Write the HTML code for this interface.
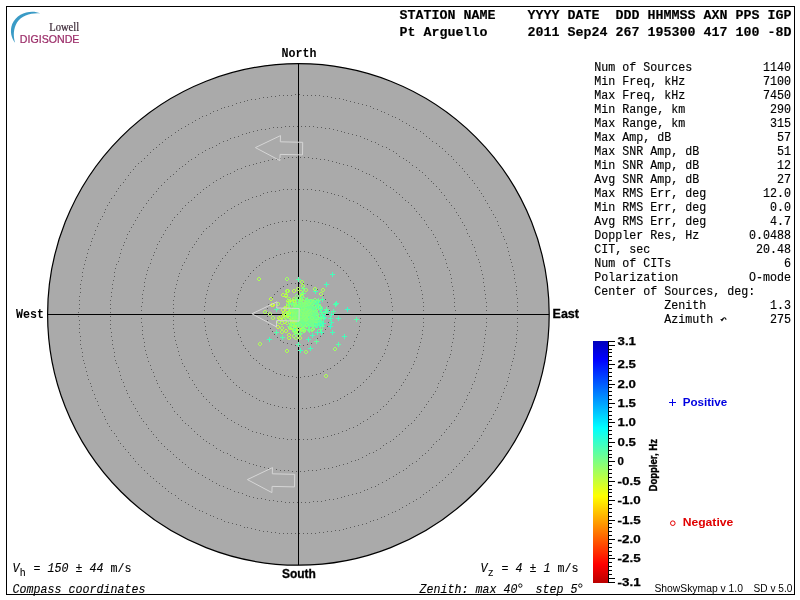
<!DOCTYPE html>
<html><head><meta charset="utf-8"><title>Skymap</title>
<style>
html,body{margin:0;padding:0;background:#fff;}
body{width:800px;height:600px;overflow:hidden;font-family:"Liberation Sans",sans-serif;}
svg{display:block;will-change:transform;}
.mono{font-family:"Liberation Mono",monospace;}
.sans{font-family:"Liberation Sans",sans-serif;}
.serif{font-family:"Liberation Serif",serif;}
</style></head><body>
<svg width="800" height="600" viewBox="0 0 800 600">
<defs>
<linearGradient id="jet" x1="0" y1="0" x2="0" y2="1">
<stop offset="0" stop-color="#0000ba"/><stop offset="0.0767" stop-color="#0000ff"/><stop offset="0.359" stop-color="#00ffff"/>
<stop offset="0.5" stop-color="#80ff80"/><stop offset="0.641" stop-color="#ffff00"/><stop offset="0.923" stop-color="#ff0000"/><stop offset="1" stop-color="#ba0000"/>
</linearGradient>
</defs>
<rect width="800" height="600" fill="#fff"/>
<rect x="6.5" y="6.5" width="788" height="588" fill="none" stroke="#000" stroke-width="1" shape-rendering="crispEdges"/>
<!-- logo -->
<path d="M40.3 13.3 C31 9.3 17 12.8 12.2 24 C9.5 31 11.5 38.5 15.1 42.8 C13.2 36 13.2 29 17 22.5 C21.8 15.3 31 12.6 40.3 13.3Z" fill="#3a9bc6"/>
<text class="serif" x="49.2" y="30.8" font-size="11.9" fill="#3b2735" stroke="#3b2735" stroke-width="0.2" textLength="30" lengthAdjust="spacingAndGlyphs">Lowell</text>
<text class="sans" x="19.8" y="42.5" font-size="10.4" fill="#9b2c68" stroke="#9b2c68" stroke-width="0.2" textLength="59.6" lengthAdjust="spacingAndGlyphs">DIGISONDE</text>
<!-- sky disk -->
<circle cx="298.4" cy="314.4" r="250.8" fill="#aaaaaa"/>
<g fill="none" stroke="#5c5c5c" stroke-width="1" shape-rendering="crispEdges"><path d="M329 314.5h1M329 318.5h1M328 322.5h1M327 326.5h1M325 329.5h1M323 333.5h1M320 336.5h1M317 338.5h1M314 341.5h1M311 343.5h1M307 344.5h1M303 345.5h1M299 345.5h1M295 345.5h1M291 344.5h1M287 343.5h1M283 342.5h1M280 340.5h1M277 337.5h1M274 334.5h1M272 331.5h1M270 328.5h1M268 324.5h1M267 320.5h1M267 316.5h1M267 312.5h1M267 308.5h1M268 304.5h1M270 300.5h1M272 297.5h1M274 294.5h1M277 291.5h1M280 288.5h1M283 286.5h1M287 284.5h1M291 283.5h1M295 283.5h1M299 283.5h1M303 283.5h1M307 284.5h1M311 285.5h1M314 287.5h1M317 289.5h1M320 292.5h1M323 295.5h1M325 299.5h1M327 302.5h1M328 306.5h1M329 310.5h1M361 314.5h1M360 318.5h1M360 322.5h1M359 326.5h1M359 330.5h1M357 334.5h1M356 337.5h1M354 341.5h1M353 345.5h1M350 348.5h1M348 351.5h1M346 355.5h1M343 358.5h1M340 360.5h1M337 363.5h1M334 365.5h1M330 368.5h1M327 369.5h1M323 371.5h1M320 373.5h1M316 374.5h1M312 375.5h1M308 376.5h1M304 376.5h1M300 377.5h1M296 377.5h1M292 376.5h1M288 376.5h1M284 375.5h1M280 374.5h1M276 373.5h1M273 371.5h1M269 369.5h1M265 368.5h1M262 365.5h1M259 363.5h1M256 360.5h1M253 358.5h1M250 355.5h1M248 351.5h1M245 348.5h1M243 345.5h1M241 341.5h1M240 337.5h1M238 334.5h1M237 330.5h1M236 326.5h1M236 322.5h1M235 318.5h1M235 314.5h1M235 310.5h1M236 306.5h1M236 302.5h1M237 298.5h1M238 294.5h1M240 290.5h1M241 287.5h1M243 283.5h1M245 280.5h1M248 276.5h1M250 273.5h1M253 270.5h1M256 267.5h1M259 265.5h1M262 262.5h1M265 260.5h1M269 258.5h1M273 257.5h1M276 255.5h1M280 254.5h1M284 253.5h1M288 252.5h1M292 251.5h1M296 251.5h1M300 251.5h1M304 251.5h1M308 252.5h1M312 253.5h1M316 254.5h1M320 255.5h1M323 257.5h1M327 258.5h1M330 260.5h1M334 262.5h1M337 265.5h1M340 267.5h1M343 270.5h1M346 273.5h1M348 276.5h1M350 280.5h1M353 283.5h1M354 287.5h1M356 290.5h1M357 294.5h1M359 298.5h1M359 302.5h1M360 306.5h1M360 310.5h1M392 314.5h1M392 318.5h1M392 322.5h1M391 326.5h1M391 330.5h1M390 334.5h1M389 338.5h1M388 341.5h1M387 345.5h1M385 349.5h1M384 353.5h1M382 356.5h1M380 360.5h1M378 363.5h1M376 367.5h1M374 370.5h1M371 373.5h1M369 376.5h1M366 379.5h1M363 382.5h1M360 385.5h1M357 387.5h1M354 390.5h1M351 392.5h1M347 394.5h1M344 396.5h1M340 398.5h1M337 400.5h1M333 401.5h1M329 403.5h1M325 404.5h1M322 405.5h1M318 406.5h1M314 407.5h1M310 407.5h1M306 408.5h1M302 408.5h1M298 408.5h1M294 408.5h1M290 408.5h1M286 407.5h1M282 407.5h1M278 406.5h1M274 405.5h1M270 404.5h1M267 403.5h1M263 401.5h1M259 400.5h1M256 398.5h1M252 396.5h1M249 394.5h1M245 392.5h1M242 390.5h1M239 387.5h1M236 385.5h1M233 382.5h1M230 379.5h1M227 376.5h1M225 373.5h1M222 370.5h1M220 367.5h1M218 363.5h1M216 360.5h1M214 356.5h1M212 353.5h1M211 349.5h1M209 345.5h1M208 341.5h1M207 338.5h1M206 334.5h1M205 330.5h1M205 326.5h1M204 322.5h1M204 318.5h1M204 314.5h1M204 310.5h1M204 306.5h1M205 302.5h1M205 298.5h1M206 294.5h1M207 290.5h1M208 286.5h1M209 283.5h1M211 279.5h1M212 275.5h1M214 272.5h1M216 268.5h1M218 265.5h1M220 261.5h1M222 258.5h1M225 255.5h1M227 252.5h1M230 249.5h1M233 246.5h1M236 243.5h1M239 241.5h1M242 238.5h1M245 236.5h1M249 234.5h1M252 232.5h1M256 230.5h1M259 228.5h1M263 227.5h1M267 225.5h1M270 224.5h1M274 223.5h1M278 222.5h1M282 221.5h1M286 221.5h1M290 220.5h1M294 220.5h1M298 220.5h1M302 220.5h1M306 220.5h1M310 221.5h1M314 221.5h1M318 222.5h1M322 223.5h1M325 224.5h1M329 225.5h1M333 227.5h1M337 228.5h1M340 230.5h1M344 232.5h1M347 234.5h1M351 236.5h1M354 238.5h1M357 241.5h1M360 243.5h1M363 246.5h1M366 249.5h1M369 252.5h1M371 255.5h1M374 258.5h1M376 261.5h1M378 265.5h1M380 268.5h1M382 272.5h1M384 275.5h1M385 279.5h1M387 283.5h1M388 286.5h1M389 290.5h1M390 294.5h1M391 298.5h1M391 302.5h1M392 306.5h1M392 310.5h1M423 314.5h1M423 318.5h1M423 322.5h1M423 326.5h1M422 330.5h1M422 334.5h1M421 338.5h1M420 342.5h1M419 346.5h1M418 349.5h1M417 353.5h1M416 357.5h1M414 361.5h1M413 364.5h1M411 368.5h1M409 372.5h1M407 375.5h1M405 379.5h1M403 382.5h1M401 385.5h1M399 389.5h1M396 392.5h1M394 395.5h1M391 398.5h1M388 401.5h1M386 404.5h1M383 406.5h1M380 409.5h1M377 412.5h1M373 414.5h1M370 416.5h1M367 419.5h1M363 421.5h1M360 423.5h1M357 425.5h1M353 427.5h1M349 428.5h1M346 430.5h1M342 431.5h1M338 433.5h1M334 434.5h1M331 435.5h1M327 436.5h1M323 437.5h1M319 438.5h1M315 438.5h1M311 439.5h1M307 439.5h1M303 439.5h1M299 439.5h1M295 439.5h1M291 439.5h1M287 439.5h1M283 438.5h1M279 438.5h1M275 437.5h1M271 436.5h1M267 435.5h1M263 434.5h1M260 433.5h1M256 432.5h1M252 431.5h1M248 429.5h1M245 427.5h1M241 426.5h1M238 424.5h1M234 422.5h1M231 420.5h1M227 418.5h1M224 415.5h1M221 413.5h1M218 410.5h1M215 408.5h1M212 405.5h1M209 402.5h1M206 399.5h1M203 396.5h1M201 393.5h1M198 390.5h1M196 387.5h1M194 384.5h1M192 380.5h1M189 377.5h1M188 373.5h1M186 370.5h1M184 366.5h1M182 363.5h1M181 359.5h1M179 355.5h1M178 351.5h1M177 347.5h1M176 344.5h1M175 340.5h1M174 336.5h1M174 332.5h1M173 328.5h1M173 324.5h1M173 320.5h1M173 316.5h1M173 312.5h1M173 308.5h1M173 304.5h1M173 300.5h1M174 296.5h1M174 292.5h1M175 288.5h1M176 284.5h1M177 280.5h1M178 276.5h1M179 273.5h1M181 269.5h1M182 265.5h1M184 262.5h1M186 258.5h1M188 254.5h1M189 251.5h1M192 247.5h1M194 244.5h1M196 241.5h1M198 238.5h1M201 234.5h1M203 231.5h1M206 228.5h1M209 226.5h1M212 223.5h1M215 220.5h1M218 217.5h1M221 215.5h1M224 213.5h1M227 210.5h1M231 208.5h1M234 206.5h1M238 204.5h1M241 202.5h1M245 200.5h1M248 199.5h1M252 197.5h1M256 196.5h1M260 195.5h1M263 193.5h1M267 192.5h1M271 191.5h1M275 191.5h1M279 190.5h1M283 189.5h1M287 189.5h1M291 189.5h1M295 189.5h1M299 189.5h1M303 189.5h1M307 189.5h1M311 189.5h1M315 190.5h1M319 190.5h1M323 191.5h1M327 192.5h1M331 193.5h1M334 194.5h1M338 195.5h1M342 196.5h1M346 198.5h1M349 200.5h1M353 201.5h1M357 203.5h1M360 205.5h1M363 207.5h1M367 209.5h1M370 211.5h1M373 214.5h1M377 216.5h1M380 219.5h1M383 221.5h1M386 224.5h1M388 227.5h1M391 230.5h1M394 233.5h1M396 236.5h1M399 239.5h1M401 242.5h1M403 246.5h1M405 249.5h1M407 253.5h1M409 256.5h1M411 260.5h1M413 263.5h1M414 267.5h1M416 271.5h1M417 275.5h1M418 278.5h1M419 282.5h1M420 286.5h1M421 290.5h1M422 294.5h1M422 298.5h1M423 302.5h1M423 306.5h1M423 310.5h1M455 314.5h1M455 318.5h1M454 322.5h1M454 326.5h1M454 330.5h1M453 334.5h1M453 338.5h1M452 342.5h1M451 346.5h1M451 350.5h1M450 354.5h1M449 357.5h1M447 361.5h1M446 365.5h1M445 369.5h1M443 372.5h1M442 376.5h1M440 380.5h1M438 383.5h1M437 387.5h1M435 391.5h1M433 394.5h1M431 397.5h1M428 401.5h1M426 404.5h1M424 407.5h1M421 411.5h1M419 414.5h1M416 417.5h1M414 420.5h1M411 423.5h1M408 425.5h1M405 428.5h1M402 431.5h1M399 434.5h1M396 436.5h1M393 439.5h1M390 441.5h1M386 443.5h1M383 445.5h1M380 448.5h1M376 450.5h1M373 452.5h1M369 453.5h1M366 455.5h1M362 457.5h1M358 459.5h1M355 460.5h1M351 461.5h1M347 463.5h1M343 464.5h1M339 465.5h1M336 466.5h1M332 467.5h1M328 468.5h1M324 468.5h1M320 469.5h1M316 470.5h1M312 470.5h1M308 470.5h1M304 471.5h1M300 471.5h1M296 471.5h1M292 471.5h1M288 470.5h1M284 470.5h1M280 470.5h1M276 469.5h1M272 468.5h1M268 468.5h1M264 467.5h1M260 466.5h1M256 465.5h1M253 464.5h1M249 463.5h1M245 461.5h1M241 460.5h1M237 459.5h1M234 457.5h1M230 455.5h1M227 453.5h1M223 452.5h1M220 450.5h1M216 448.5h1M213 445.5h1M209 443.5h1M206 441.5h1M203 439.5h1M200 436.5h1M197 434.5h1M194 431.5h1M191 428.5h1M188 425.5h1M185 423.5h1M182 420.5h1M180 417.5h1M177 414.5h1M174 411.5h1M172 407.5h1M170 404.5h1M167 401.5h1M165 397.5h1M163 394.5h1M161 391.5h1M159 387.5h1M157 383.5h1M156 380.5h1M154 376.5h1M153 372.5h1M151 369.5h1M150 365.5h1M148 361.5h1M147 357.5h1M146 354.5h1M145 350.5h1M144 346.5h1M144 342.5h1M143 338.5h1M142 334.5h1M142 330.5h1M142 326.5h1M141 322.5h1M141 318.5h1M141 314.5h1M141 310.5h1M141 306.5h1M142 302.5h1M142 298.5h1M142 294.5h1M143 290.5h1M144 286.5h1M144 282.5h1M145 278.5h1M146 274.5h1M147 270.5h1M148 267.5h1M150 263.5h1M151 259.5h1M153 255.5h1M154 252.5h1M156 248.5h1M157 244.5h1M159 241.5h1M161 237.5h1M163 234.5h1M165 230.5h1M167 227.5h1M170 224.5h1M172 220.5h1M174 217.5h1M177 214.5h1M180 211.5h1M182 208.5h1M185 205.5h1M188 202.5h1M191 200.5h1M194 197.5h1M197 194.5h1M200 192.5h1M203 189.5h1M206 187.5h1M209 185.5h1M213 182.5h1M216 180.5h1M220 178.5h1M223 176.5h1M227 174.5h1M230 173.5h1M234 171.5h1M237 169.5h1M241 168.5h1M245 166.5h1M249 165.5h1M253 164.5h1M256 163.5h1M260 162.5h1M264 161.5h1M268 160.5h1M272 159.5h1M276 159.5h1M280 158.5h1M284 158.5h1M288 157.5h1M292 157.5h1M296 157.5h1M300 157.5h1M304 157.5h1M308 157.5h1M312 158.5h1M316 158.5h1M320 159.5h1M324 159.5h1M328 160.5h1M332 161.5h1M336 162.5h1M339 163.5h1M343 164.5h1M347 165.5h1M351 166.5h1M355 168.5h1M358 169.5h1M362 171.5h1M366 173.5h1M369 174.5h1M373 176.5h1M376 178.5h1M380 180.5h1M383 182.5h1M386 185.5h1M390 187.5h1M393 189.5h1M396 192.5h1M399 194.5h1M402 197.5h1M405 200.5h1M408 202.5h1M411 205.5h1M414 208.5h1M416 211.5h1M419 214.5h1M421 217.5h1M424 220.5h1M426 224.5h1M428 227.5h1M431 230.5h1M433 234.5h1M435 237.5h1M437 241.5h1M438 244.5h1M440 248.5h1M442 252.5h1M443 255.5h1M445 259.5h1M446 263.5h1M447 267.5h1M449 270.5h1M450 274.5h1M451 278.5h1M451 282.5h1M452 286.5h1M453 290.5h1M453 294.5h1M454 298.5h1M454 302.5h1M454 306.5h1M455 310.5h1M486 314.5h1M486 318.5h1M486 322.5h1M486 326.5h1M485 330.5h1M485 334.5h1M484 338.5h1M484 342.5h1M483 346.5h1M483 350.5h1M482 354.5h1M481 358.5h1M480 361.5h1M479 365.5h1M478 369.5h1M476 373.5h1M475 377.5h1M474 381.5h1M472 384.5h1M471 388.5h1M469 392.5h1M467 395.5h1M466 399.5h1M464 402.5h1M462 406.5h1M460 409.5h1M458 413.5h1M456 416.5h1M454 420.5h1M451 423.5h1M449 426.5h1M446 429.5h1M444 432.5h1M441 435.5h1M439 439.5h1M436 441.5h1M433 444.5h1M431 447.5h1M428 450.5h1M425 453.5h1M422 455.5h1M419 458.5h1M416 461.5h1M412 463.5h1M409 465.5h1M406 468.5h1M403 470.5h1M399 472.5h1M396 474.5h1M393 476.5h1M389 478.5h1M386 480.5h1M382 482.5h1M378 484.5h1M375 486.5h1M371 487.5h1M367 489.5h1M364 490.5h1M360 492.5h1M356 493.5h1M352 494.5h1M348 495.5h1M344 496.5h1M341 497.5h1M337 498.5h1M333 499.5h1M329 499.5h1M325 500.5h1M321 501.5h1M317 501.5h1M313 501.5h1M309 502.5h1M305 502.5h1M301 502.5h1M297 502.5h1M293 502.5h1M289 502.5h1M285 502.5h1M281 501.5h1M277 501.5h1M273 500.5h1M269 500.5h1M265 499.5h1M261 498.5h1M257 498.5h1M253 497.5h1M249 496.5h1M246 495.5h1M242 493.5h1M238 492.5h1M234 491.5h1M230 489.5h1M227 488.5h1M223 486.5h1M219 485.5h1M216 483.5h1M212 481.5h1M209 479.5h1M205 477.5h1M202 475.5h1M198 473.5h1M195 471.5h1M191 469.5h1M188 467.5h1M185 464.5h1M182 462.5h1M179 459.5h1M176 457.5h1M173 454.5h1M170 451.5h1M167 449.5h1M164 446.5h1M161 443.5h1M158 440.5h1M156 437.5h1M153 434.5h1M151 431.5h1M148 428.5h1M146 424.5h1M143 421.5h1M141 418.5h1M139 415.5h1M137 411.5h1M135 408.5h1M133 404.5h1M131 401.5h1M129 397.5h1M127 393.5h1M126 390.5h1M124 386.5h1M123 382.5h1M121 379.5h1M120 375.5h1M119 371.5h1M118 367.5h1M116 363.5h1M115 360.5h1M114 356.5h1M114 352.5h1M113 348.5h1M112 344.5h1M112 340.5h1M111 336.5h1M111 332.5h1M110 328.5h1M110 324.5h1M110 320.5h1M110 316.5h1M110 312.5h1M110 308.5h1M110 304.5h1M110 300.5h1M111 296.5h1M111 292.5h1M112 288.5h1M112 284.5h1M113 280.5h1M114 276.5h1M114 272.5h1M115 268.5h1M116 264.5h1M118 261.5h1M119 257.5h1M120 253.5h1M121 249.5h1M123 245.5h1M124 242.5h1M126 238.5h1M127 234.5h1M129 231.5h1M131 227.5h1M133 224.5h1M135 220.5h1M137 217.5h1M139 213.5h1M141 210.5h1M143 207.5h1M146 203.5h1M148 200.5h1M151 197.5h1M153 194.5h1M156 191.5h1M158 188.5h1M161 185.5h1M164 182.5h1M167 179.5h1M170 176.5h1M173 174.5h1M176 171.5h1M179 168.5h1M182 166.5h1M185 164.5h1M188 161.5h1M191 159.5h1M195 157.5h1M198 154.5h1M202 152.5h1M205 150.5h1M209 148.5h1M212 147.5h1M216 145.5h1M219 143.5h1M223 141.5h1M227 140.5h1M230 138.5h1M234 137.5h1M238 136.5h1M242 134.5h1M246 133.5h1M249 132.5h1M253 131.5h1M257 130.5h1M261 129.5h1M265 129.5h1M269 128.5h1M273 127.5h1M277 127.5h1M281 127.5h1M285 126.5h1M289 126.5h1M293 126.5h1M297 126.5h1M301 126.5h1M305 126.5h1M309 126.5h1M313 126.5h1M317 127.5h1M321 127.5h1M325 128.5h1M329 128.5h1M333 129.5h1M337 130.5h1M341 131.5h1M344 132.5h1M348 133.5h1M352 134.5h1M356 135.5h1M360 136.5h1M364 138.5h1M367 139.5h1M371 141.5h1M375 142.5h1M378 144.5h1M382 146.5h1M386 147.5h1M389 149.5h1M393 151.5h1M396 153.5h1M399 156.5h1M403 158.5h1M406 160.5h1M409 162.5h1M412 165.5h1M416 167.5h1M419 170.5h1M422 172.5h1M425 175.5h1M428 178.5h1M431 181.5h1M433 183.5h1M436 186.5h1M439 189.5h1M441 192.5h1M444 195.5h1M446 199.5h1M449 202.5h1M451 205.5h1M454 208.5h1M456 212.5h1M458 215.5h1M460 218.5h1M462 222.5h1M464 225.5h1M466 229.5h1M467 233.5h1M469 236.5h1M471 240.5h1M472 244.5h1M474 247.5h1M475 251.5h1M476 255.5h1M478 259.5h1M479 262.5h1M480 266.5h1M481 270.5h1M482 274.5h1M483 278.5h1M483 282.5h1M484 286.5h1M484 290.5h1M485 294.5h1M485 298.5h1M486 302.5h1M486 306.5h1M486 310.5h1M517 314.5h1M517 318.5h1M517 322.5h1M517 326.5h1M517 330.5h1M516 334.5h1M516 338.5h1M516 342.5h1M515 346.5h1M514 350.5h1M514 354.5h1M513 358.5h1M512 361.5h1M511 365.5h1M510 369.5h1M509 373.5h1M508 377.5h1M507 381.5h1M506 385.5h1M504 388.5h1M503 392.5h1M501 396.5h1M500 399.5h1M498 403.5h1M497 407.5h1M495 410.5h1M493 414.5h1M491 418.5h1M489 421.5h1M487 424.5h1M485 428.5h1M483 431.5h1M481 435.5h1M479 438.5h1M477 441.5h1M474 445.5h1M472 448.5h1M469 451.5h1M467 454.5h1M464 457.5h1M462 460.5h1M459 463.5h1M456 466.5h1M453 469.5h1M451 472.5h1M448 474.5h1M445 477.5h1M442 480.5h1M439 482.5h1M436 485.5h1M432 487.5h1M429 490.5h1M426 492.5h1M423 494.5h1M420 497.5h1M416 499.5h1M413 501.5h1M409 503.5h1M406 505.5h1M402 507.5h1M399 509.5h1M395 511.5h1M392 512.5h1M388 514.5h1M384 516.5h1M381 517.5h1M377 519.5h1M373 520.5h1M370 521.5h1M366 523.5h1M362 524.5h1M358 525.5h1M354 526.5h1M350 527.5h1M346 528.5h1M343 529.5h1M339 530.5h1M335 530.5h1M331 531.5h1M327 531.5h1M323 532.5h1M319 532.5h1M315 533.5h1M311 533.5h1M307 533.5h1M303 533.5h1M299 533.5h1M295 533.5h1M291 533.5h1M287 533.5h1M283 533.5h1M279 533.5h1M275 532.5h1M271 532.5h1M267 531.5h1M263 531.5h1M259 530.5h1M255 529.5h1M251 528.5h1M247 527.5h1M244 527.5h1M240 525.5h1M236 524.5h1M232 523.5h1M228 522.5h1M224 521.5h1M221 519.5h1M217 518.5h1M213 516.5h1M210 515.5h1M206 513.5h1M202 511.5h1M199 510.5h1M195 508.5h1M192 506.5h1M188 504.5h1M185 502.5h1M181 500.5h1M178 498.5h1M175 495.5h1M171 493.5h1M168 491.5h1M165 488.5h1M162 486.5h1M159 483.5h1M156 481.5h1M153 478.5h1M150 476.5h1M147 473.5h1M144 470.5h1M141 467.5h1M138 464.5h1M135 461.5h1M133 458.5h1M130 455.5h1M128 452.5h1M125 449.5h1M123 446.5h1M120 443.5h1M118 440.5h1M116 436.5h1M114 433.5h1M111 430.5h1M109 426.5h1M107 423.5h1M105 419.5h1M104 416.5h1M102 412.5h1M100 409.5h1M98 405.5h1M97 401.5h1M95 398.5h1M94 394.5h1M92 390.5h1M91 386.5h1M90 383.5h1M88 379.5h1M87 375.5h1M86 371.5h1M85 367.5h1M84 363.5h1M83 360.5h1M82 356.5h1M82 352.5h1M81 348.5h1M80 344.5h1M80 340.5h1M80 336.5h1M79 332.5h1M79 328.5h1M79 324.5h1M79 320.5h1M78 316.5h1M78 312.5h1M79 308.5h1M79 304.5h1M79 300.5h1M79 296.5h1M80 292.5h1M80 288.5h1M80 284.5h1M81 280.5h1M82 276.5h1M82 272.5h1M83 268.5h1M84 264.5h1M85 260.5h1M86 257.5h1M87 253.5h1M88 249.5h1M90 245.5h1M91 241.5h1M92 238.5h1M94 234.5h1M95 230.5h1M97 226.5h1M98 223.5h1M100 219.5h1M102 216.5h1M104 212.5h1M105 209.5h1M107 205.5h1M109 202.5h1M111 198.5h1M114 195.5h1M116 191.5h1M118 188.5h1M120 185.5h1M123 182.5h1M125 179.5h1M128 175.5h1M130 172.5h1M133 169.5h1M135 166.5h1M138 163.5h1M141 161.5h1M144 158.5h1M147 155.5h1M150 152.5h1M153 149.5h1M156 147.5h1M159 144.5h1M162 142.5h1M165 139.5h1M168 137.5h1M171 135.5h1M175 132.5h1M178 130.5h1M181 128.5h1M185 126.5h1M188 124.5h1M192 122.5h1M195 120.5h1M199 118.5h1M202 116.5h1M206 115.5h1M210 113.5h1M213 111.5h1M217 110.5h1M221 108.5h1M224 107.5h1M228 106.5h1M232 105.5h1M236 103.5h1M240 102.5h1M244 101.5h1M247 100.5h1M251 99.5h1M255 99.5h1M259 98.5h1M263 97.5h1M267 97.5h1M271 96.5h1M275 96.5h1M279 95.5h1M283 95.5h1M287 95.5h1M291 95.5h1M295 94.5h1M299 94.5h1M303 95.5h1M307 95.5h1M311 95.5h1M315 95.5h1M319 95.5h1M323 96.5h1M327 96.5h1M331 97.5h1M335 98.5h1M339 98.5h1M343 99.5h1M346 100.5h1M350 101.5h1M354 102.5h1M358 103.5h1M362 104.5h1M366 105.5h1M370 106.5h1M373 108.5h1M377 109.5h1M381 111.5h1M384 112.5h1M388 114.5h1M392 116.5h1M395 117.5h1M399 119.5h1M402 121.5h1M406 123.5h1M409 125.5h1M413 127.5h1M416 129.5h1M420 131.5h1M423 133.5h1M426 136.5h1M429 138.5h1M432 141.5h1M436 143.5h1M439 146.5h1M442 148.5h1M445 151.5h1M448 154.5h1M451 156.5h1M453 159.5h1M456 162.5h1M459 165.5h1M462 168.5h1M464 171.5h1M467 174.5h1M469 177.5h1M472 180.5h1M474 183.5h1M477 187.5h1M479 190.5h1M481 193.5h1M483 196.5h1M485 200.5h1M487 203.5h1M489 207.5h1M491 210.5h1M493 214.5h1M495 217.5h1M497 221.5h1M498 225.5h1M500 228.5h1M501 232.5h1M503 236.5h1M504 239.5h1M506 243.5h1M507 247.5h1M508 251.5h1M509 255.5h1M510 259.5h1M511 262.5h1M512 266.5h1M513 270.5h1M514 274.5h1M514 278.5h1M515 282.5h1M516 286.5h1M516 290.5h1M516 294.5h1M517 298.5h1M517 302.5h1M517 306.5h1M517 310.5h1"/></g>
<path d="M298.5 63.6V565.2M47.6 314.5H549.2" stroke="#000" stroke-width="1" shape-rendering="crispEdges"/>
<g fill="none" stroke-width="1" shape-rendering="crispEdges">
<path d="M295 328.5h2M295 331.5h2M294.5 329v2M297.5 329v2M288 306.5h2M288 309.5h2M287.5 307v2M290.5 307v2M293 309.5h2M293 312.5h2M292.5 310v2M295.5 310v2M282 314.5h2M282 317.5h2M281.5 315v2M284.5 315v2M296 315.5h2M296 318.5h2M295.5 316v2M298.5 316v2M301 292.5h2M301 295.5h2M300.5 293v2M303.5 293v2M285 313.5h2M285 316.5h2M284.5 314v2M287.5 314v2M294 300.5h2M294 303.5h2M293.5 301v2M296.5 301v2M294 327.5h2M294 330.5h2M293.5 328v2M296.5 328v2M288 300.5h2M288 303.5h2M287.5 301v2M290.5 301v2M272 303.5h2M272 306.5h2M271.5 304v2M274.5 304v2M279 317.5h2M279 320.5h2M278.5 318v2M281.5 318v2M287 313.5h2M287 316.5h2M286.5 314v2M289.5 314v2M294 305.5h2M294 308.5h2M293.5 306v2M296.5 306v2M282 308.5h2M282 311.5h2M281.5 309v2M284.5 309v2M296 309.5h2M296 312.5h2M295.5 310v2M298.5 310v2M284 313.5h2M284 316.5h2M283.5 314v2M286.5 314v2M296 313.5h2M296 316.5h2M295.5 314v2M298.5 314v2M271 303.5h2M271 306.5h2M270.5 304v2M273.5 304v2M286 311.5h2M286 314.5h2M285.5 312v2M288.5 312v2M284 320.5h2M284 323.5h2M283.5 321v2M286.5 321v2M289 313.5h2M289 316.5h2M288.5 314v2M291.5 314v2M284 310.5h2M284 313.5h2M283.5 311v2M286.5 311v2M277 325.5h2M277 328.5h2M276.5 326v2M279.5 326v2M296 317.5h2M296 320.5h2M295.5 318v2M298.5 318v2M285 313.5h2M285 316.5h2M284.5 314v2M287.5 314v2" stroke="#c8ff37"/>
<path d="M323 311.5h5M325.5 309v5M316 302.5h5M318.5 300v5M313 316.5h5M315.5 314v5M312 319.5h5M314.5 317v5M328 326.5h5M330.5 324v5M306 312.5h5M308.5 310v5M345 309.5h5M347.5 307v5M317 325.5h5M319.5 323v5M322 317.5h5M324.5 315v5M313 314.5h5M315.5 312v5M315 325.5h5M317.5 323v5M318 307.5h5M320.5 305v5" stroke="#37ffc8"/>
<path d="M309 301.5h5M311.5 299v5M311 319.5h5M313.5 317v5M319 332.5h5M321.5 330v5M310 322.5h5M312.5 320v5M308 318.5h5M310.5 316v5M310 317.5h5M312.5 315v5M312 320.5h5M314.5 318v5M311 311.5h5M313.5 309v5M318 309.5h5M320.5 307v5M306 324.5h5M308.5 322v5M308 308.5h5M310.5 306v5M308 318.5h5M310.5 316v5M304 302.5h5M306.5 300v5M312 315.5h5M314.5 313v5M316 305.5h5M318.5 303v5M306 306.5h5M308.5 304v5M325 311.5h5M327.5 309v5M311 314.5h5M313.5 312v5M313 291.5h5M315.5 289v5M314 323.5h5M316.5 321v5M306 339.5h5M308.5 337v5M317 308.5h5M319.5 306v5M316 319.5h5M318.5 317v5M314 317.5h5M316.5 315v5M317 324.5h5M319.5 322v5M309 305.5h5M311.5 303v5M309 312.5h5M311.5 310v5M315 305.5h5M317.5 303v5M312 320.5h5M314.5 318v5M310 320.5h5M312.5 318v5M305 312.5h5M307.5 310v5M321 317.5h5M323.5 315v5M310 316.5h5M312.5 314v5M330 274.5h5M332.5 272v5M324 284.5h5M326.5 282v5M334 303.5h5M336.5 301v5M334 303.5h5M336.5 301v5M336 318.5h5M338.5 316v5M329 314.5h5M331.5 312v5M328 318.5h5M330.5 316v5M329 322.5h5M331.5 320v5M330 332.5h5M332.5 330v5M342 336.5h5M344.5 334v5M308 348.5h5M310.5 346v5M298 350.5h5M300.5 348v5M267 339.5h5M269.5 337v5M292 328.5h5M294.5 326v5M321 323.5h5M323.5 321v5M320 323.5h5M322.5 321v5M310 335.5h5M312.5 333v5M315 332.5h5M317.5 330v5" stroke="#45ffba"/>
<path d="M300 307.5h2M300 310.5h2M299.5 308v2M302.5 308v2M297 319.5h2M297 322.5h2M296.5 320v2M299.5 320v2M288 313.5h2M288 316.5h2M287.5 314v2M290.5 314v2M300 311.5h2M300 314.5h2M299.5 312v2M302.5 312v2M310 305.5h2M310 308.5h2M309.5 306v2M312.5 306v2M295 313.5h2M295 316.5h2M294.5 314v2M297.5 314v2M295 313.5h2M295 316.5h2M294.5 314v2M297.5 314v2M284 306.5h2M284 309.5h2M283.5 307v2M286.5 307v2M291 318.5h2M291 321.5h2M290.5 319v2M293.5 319v2M296 312.5h2M296 315.5h2M295.5 313v2M298.5 313v2M290 317.5h2M290 320.5h2M289.5 318v2M292.5 318v2M285 329.5h2M285 332.5h2M284.5 330v2M287.5 330v2M286 305.5h2M286 308.5h2M285.5 306v2M288.5 306v2M300 316.5h2M300 319.5h2M299.5 317v2M302.5 317v2M300 298.5h2M300 301.5h2M299.5 299v2M302.5 299v2M286 305.5h2M286 308.5h2M285.5 306v2M288.5 306v2M291 319.5h2M291 322.5h2M290.5 320v2M293.5 320v2M298 306.5h2M298 309.5h2M297.5 307v2M300.5 307v2M301 294.5h2M301 297.5h2M300.5 295v2M303.5 295v2M289 316.5h2M289 319.5h2M288.5 317v2M291.5 317v2M300 312.5h2M300 315.5h2M299.5 313v2M302.5 313v2M288 310.5h2M288 313.5h2M287.5 311v2M290.5 311v2M295 311.5h2M295 314.5h2M294.5 312v2M297.5 312v2M297 309.5h2M297 312.5h2M296.5 310v2M299.5 310v2M294 310.5h2M294 313.5h2M293.5 311v2M296.5 311v2M284 315.5h2M284 318.5h2M283.5 316v2M286.5 316v2M290 314.5h2M290 317.5h2M289.5 315v2M292.5 315v2M293 317.5h2M293 320.5h2M292.5 318v2M295.5 318v2M295 317.5h2M295 320.5h2M294.5 318v2M297.5 318v2M293 299.5h2M293 302.5h2M292.5 300v2M295.5 300v2M296 310.5h2M296 313.5h2M295.5 311v2M298.5 311v2M292 316.5h2M292 319.5h2M291.5 317v2M294.5 317v2M291 318.5h2M291 321.5h2M290.5 319v2M293.5 319v2M270 297.5h2M270 300.5h2M269.5 298v2M272.5 298v2M288 333.5h2M288 336.5h2M287.5 334v2M290.5 334v2M288 336.5h2M288 339.5h2M287.5 337v2M290.5 337v2M293 289.5h2M293 292.5h2M292.5 290v2M295.5 290v2M282 293.5h2M282 296.5h2M281.5 294v2M284.5 294v2M285 294.5h2M285 297.5h2M284.5 295v2M287.5 295v2M278 316.5h2M278 319.5h2M277.5 317v2M280.5 317v2" stroke="#baff45"/>
<path d="M301 328.5h2M301 331.5h2M300.5 329v2M303.5 329v2M294 313.5h2M294 316.5h2M293.5 314v2M296.5 314v2M303 314.5h2M303 317.5h2M302.5 315v2M305.5 315v2M292 315.5h2M292 318.5h2M291.5 316v2M294.5 316v2M288 315.5h2M288 318.5h2M287.5 316v2M290.5 316v2M294 310.5h2M294 313.5h2M293.5 311v2M296.5 311v2M295 324.5h2M295 327.5h2M294.5 325v2M297.5 325v2M301 307.5h2M301 310.5h2M300.5 308v2M303.5 308v2M294 318.5h2M294 321.5h2M293.5 319v2M296.5 319v2M291 308.5h2M291 311.5h2M290.5 309v2M293.5 309v2M297 310.5h2M297 313.5h2M296.5 311v2M299.5 311v2M302 309.5h2M302 312.5h2M301.5 310v2M304.5 310v2M295 321.5h2M295 324.5h2M294.5 322v2M297.5 322v2M299 325.5h2M299 328.5h2M298.5 326v2M301.5 326v2M298 307.5h2M298 310.5h2M297.5 308v2M300.5 308v2M294 302.5h2M294 305.5h2M293.5 303v2M296.5 303v2M300 290.5h2M300 293.5h2M299.5 291v2M302.5 291v2M297 307.5h2M297 310.5h2M296.5 308v2M299.5 308v2M302 314.5h2M302 317.5h2M301.5 315v2M304.5 315v2M285 316.5h2M285 319.5h2M284.5 317v2M287.5 317v2M301 309.5h2M301 312.5h2M300.5 310v2M303.5 310v2M301 316.5h2M301 319.5h2M300.5 317v2M303.5 317v2M285 293.5h2M285 296.5h2M284.5 294v2M287.5 294v2M293 297.5h2M293 300.5h2M292.5 298v2M295.5 298v2M301 311.5h2M301 314.5h2M300.5 312v2M303.5 312v2M293 334.5h2M293 337.5h2M292.5 335v2M295.5 335v2M290 300.5h2M290 303.5h2M289.5 301v2M292.5 301v2M294 314.5h2M294 317.5h2M293.5 315v2M296.5 315v2M287 311.5h2M287 314.5h2M286.5 312v2M289.5 312v2M293 316.5h2M293 319.5h2M292.5 317v2M295.5 317v2M289 326.5h2M289 329.5h2M288.5 327v2M291.5 327v2M301 317.5h2M301 320.5h2M300.5 318v2M303.5 318v2M296 309.5h2M296 312.5h2M295.5 310v2M298.5 310v2M291 326.5h2M291 329.5h2M290.5 327v2M293.5 327v2M300 303.5h2M300 306.5h2M299.5 304v2M302.5 304v2M284 315.5h2M284 318.5h2M283.5 316v2M286.5 316v2M289 299.5h2M289 302.5h2M288.5 300v2M291.5 300v2M287 299.5h2M287 302.5h2M286.5 300v2M289.5 300v2M295 308.5h2M295 311.5h2M294.5 309v2M297.5 309v2M295 309.5h2M295 312.5h2M294.5 310v2M297.5 310v2M293 323.5h2M293 326.5h2M292.5 324v2M295.5 324v2M292 304.5h2M292 307.5h2M291.5 305v2M294.5 305v2M295 320.5h2M295 323.5h2M294.5 321v2M297.5 321v2M294 309.5h2M294 312.5h2M293.5 310v2M296.5 310v2M305 313.5h2M305 316.5h2M304.5 314v2M307.5 314v2M306 317.5h2M306 320.5h2M305.5 318v2M308.5 318v2M285 306.5h2M285 309.5h2M284.5 307v2M287.5 307v2M286 321.5h2M286 324.5h2M285.5 322v2M288.5 322v2M297 307.5h2M297 310.5h2M296.5 308v2M299.5 308v2M283 311.5h2M283 314.5h2M282.5 312v2M285.5 312v2M291 321.5h2M291 324.5h2M290.5 322v2M293.5 322v2M258 277.5h2M258 280.5h2M257.5 278v2M260.5 278v2M264 310.5h2M264 313.5h2M263.5 311v2M266.5 311v2M269 312.5h2M269 315.5h2M268.5 313v2M271.5 313v2M272 316.5h2M272 319.5h2M271.5 317v2M274.5 317v2M259 342.5h2M259 345.5h2M258.5 343v2M261.5 343v2M286 349.5h2M286 352.5h2M285.5 350v2M288.5 350v2M281 330.5h2M281 333.5h2M280.5 331v2M283.5 331v2M281 326.5h2M281 329.5h2M280.5 327v2M283.5 327v2M299 336.5h2M299 339.5h2M298.5 337v2M301.5 337v2M314 287.5h2M314 290.5h2M313.5 288v2M316.5 288v2M322 288.5h2M322 291.5h2M321.5 289v2M324.5 289v2M320 292.5h2M320 295.5h2M319.5 293v2M322.5 293v2M305 288.5h2M305 291.5h2M304.5 289v2M307.5 289v2M301 280.5h2M301 283.5h2M300.5 281v2M303.5 281v2M302 284.5h2M302 287.5h2M301.5 285v2M304.5 285v2M287 289.5h2M287 292.5h2M286.5 290v2M289.5 290v2M287 289.5h2M287 292.5h2M286.5 290v2M289.5 290v2M286 289.5h2M286 292.5h2M285.5 290v2M288.5 290v2M297 287.5h2M297 290.5h2M296.5 288v2M299.5 288v2M277 302.5h2M277 305.5h2M276.5 303v2M279.5 303v2M278 320.5h2M278 323.5h2M277.5 321v2M280.5 321v2M281 321.5h2M281 324.5h2M280.5 322v2M283.5 322v2M325 374.5h2M325 377.5h2M324.5 375v2M327.5 375v2" stroke="#abff54"/>
<path d="M314 318.5h5M316.5 316v5M307 311.5h5M309.5 309v5M303 308.5h5M305.5 306v5M313 312.5h5M315.5 310v5M298 307.5h5M300.5 305v5M307 308.5h5M309.5 306v5M312 320.5h5M314.5 318v5M304 305.5h5M306.5 303v5M314 302.5h5M316.5 300v5M307 321.5h5M309.5 319v5M317 320.5h5M319.5 318v5M313 311.5h5M315.5 309v5M305 306.5h5M307.5 304v5M292 324.5h5M294.5 322v5M305 307.5h5M307.5 305v5M313 315.5h5M315.5 313v5M302 306.5h5M304.5 304v5M301 309.5h5M303.5 307v5M313 318.5h5M315.5 316v5M313 316.5h5M315.5 314v5M313 306.5h5M315.5 304v5M309 314.5h5M311.5 312v5M320 314.5h5M322.5 312v5M305 314.5h5M307.5 312v5M308 324.5h5M310.5 322v5M303 312.5h5M305.5 310v5M301 324.5h5M303.5 322v5M311 325.5h5M313.5 323v5M310 317.5h5M312.5 315v5M320 299.5h5M322.5 297v5M312 323.5h5M314.5 321v5M297 316.5h5M299.5 314v5M298 312.5h5M300.5 310v5M304 312.5h5M306.5 310v5M308 312.5h5M310.5 310v5M303 320.5h5M305.5 318v5M314 313.5h5M316.5 311v5M314 325.5h5M316.5 323v5M315 301.5h5M317.5 299v5M306 304.5h5M308.5 302v5M308 301.5h5M310.5 299v5M308 316.5h5M310.5 314v5M302 307.5h5M304.5 305v5M314 324.5h5M316.5 322v5M308 320.5h5M310.5 318v5M313 302.5h5M315.5 300v5M318 317.5h5M320.5 315v5M319 321.5h5M321.5 319v5M321 318.5h5M323.5 316v5M296 279.5h5M298.5 277v5M333 304.5h5M335.5 302v5M354 319.5h5M356.5 317v5M331 311.5h5M333.5 309v5M336 344.5h5M338.5 342v5M296 344.5h5M298.5 342v5M274 332.5h5M276.5 330v5M280 337.5h5M282.5 335v5M274 309.5h5M276.5 307v5M293 332.5h5M295.5 330v5" stroke="#54ffab"/>
<path d="M297 314.5h2M297 317.5h2M296.5 315v2M299.5 315v2M300 297.5h2M300 300.5h2M299.5 298v2M302.5 298v2M306 315.5h2M306 318.5h2M305.5 316v2M308.5 316v2M296 313.5h2M296 316.5h2M295.5 314v2M298.5 314v2M302 309.5h2M302 312.5h2M301.5 310v2M304.5 310v2M296 312.5h2M296 315.5h2M295.5 313v2M298.5 313v2M297 315.5h2M297 318.5h2M296.5 316v2M299.5 316v2M294 329.5h2M294 332.5h2M293.5 330v2M296.5 330v2M306 307.5h2M306 310.5h2M305.5 308v2M308.5 308v2M303 329.5h2M303 332.5h2M302.5 330v2M305.5 330v2M298 315.5h2M298 318.5h2M297.5 316v2M300.5 316v2M294 311.5h2M294 314.5h2M293.5 312v2M296.5 312v2M298 311.5h2M298 314.5h2M297.5 312v2M300.5 312v2M295 323.5h2M295 326.5h2M294.5 324v2M297.5 324v2M293 319.5h2M293 322.5h2M292.5 320v2M295.5 320v2M292 314.5h2M292 317.5h2M291.5 315v2M294.5 315v2M294 317.5h2M294 320.5h2M293.5 318v2M296.5 318v2M304 304.5h2M304 307.5h2M303.5 305v2M306.5 305v2M301 298.5h2M301 301.5h2M300.5 299v2M303.5 299v2M305 312.5h2M305 315.5h2M304.5 313v2M307.5 313v2M304 317.5h2M304 320.5h2M303.5 318v2M306.5 318v2M291 309.5h2M291 312.5h2M290.5 310v2M293.5 310v2M308 315.5h2M308 318.5h2M307.5 316v2M310.5 316v2M311 306.5h2M311 309.5h2M310.5 307v2M313.5 307v2M288 297.5h2M288 300.5h2M287.5 298v2M290.5 298v2M293 308.5h2M293 311.5h2M292.5 309v2M295.5 309v2M287 302.5h2M287 305.5h2M286.5 303v2M289.5 303v2M293 319.5h2M293 322.5h2M292.5 320v2M295.5 320v2M298 304.5h2M298 307.5h2M297.5 305v2M300.5 305v2M290 311.5h2M290 314.5h2M289.5 312v2M292.5 312v2M295 306.5h2M295 309.5h2M294.5 307v2M297.5 307v2M304 310.5h2M304 313.5h2M303.5 311v2M306.5 311v2M307 312.5h2M307 315.5h2M306.5 313v2M309.5 313v2M302 309.5h2M302 312.5h2M301.5 310v2M304.5 310v2M303 311.5h2M303 314.5h2M302.5 312v2M305.5 312v2M296 305.5h2M296 308.5h2M295.5 306v2M298.5 306v2M295 321.5h2M295 324.5h2M294.5 322v2M297.5 322v2M302 325.5h2M302 328.5h2M301.5 326v2M304.5 326v2M292 323.5h2M292 326.5h2M291.5 324v2M294.5 324v2M294 312.5h2M294 315.5h2M293.5 313v2M296.5 313v2M298 312.5h2M298 315.5h2M297.5 313v2M300.5 313v2M294 308.5h2M294 311.5h2M293.5 309v2M296.5 309v2M300 317.5h2M300 320.5h2M299.5 318v2M302.5 318v2M304 319.5h2M304 322.5h2M303.5 320v2M306.5 320v2M298 316.5h2M298 319.5h2M297.5 317v2M300.5 317v2M303 312.5h2M303 315.5h2M302.5 313v2M305.5 313v2M299 308.5h2M299 311.5h2M298.5 309v2M301.5 309v2M316 307.5h2M316 310.5h2M315.5 308v2M318.5 308v2M297 322.5h2M297 325.5h2M296.5 323v2M299.5 323v2M300 320.5h2M300 323.5h2M299.5 321v2M302.5 321v2M300 309.5h2M300 312.5h2M299.5 310v2M302.5 310v2M298 319.5h2M298 322.5h2M297.5 320v2M300.5 320v2M304 313.5h2M304 316.5h2M303.5 314v2M306.5 314v2M305 318.5h2M305 321.5h2M304.5 319v2M307.5 319v2M295 322.5h2M295 325.5h2M294.5 323v2M297.5 323v2M296 312.5h2M296 315.5h2M295.5 313v2M298.5 313v2M293 319.5h2M293 322.5h2M292.5 320v2M295.5 320v2M303 318.5h2M303 321.5h2M302.5 319v2M305.5 319v2M295 330.5h2M295 333.5h2M294.5 331v2M297.5 331v2M296 315.5h2M296 318.5h2M295.5 316v2M298.5 316v2M299 316.5h2M299 319.5h2M298.5 317v2M301.5 317v2M302 324.5h2M302 327.5h2M301.5 325v2M304.5 325v2M310 310.5h2M310 313.5h2M309.5 311v2M312.5 311v2M299 319.5h2M299 322.5h2M298.5 320v2M301.5 320v2M303 307.5h2M303 310.5h2M302.5 308v2M305.5 308v2M297 307.5h2M297 310.5h2M296.5 308v2M299.5 308v2M289 308.5h2M289 311.5h2M288.5 309v2M291.5 309v2M306 304.5h2M306 307.5h2M305.5 305v2M308.5 305v2M283 317.5h2M283 320.5h2M282.5 318v2M285.5 318v2M286 277.5h2M286 280.5h2M285.5 278v2M288.5 278v2M305 350.5h2M305 353.5h2M304.5 351v2M307.5 351v2M334 347.5h2M334 350.5h2M333.5 348v2M336.5 348v2M295 336.5h2M295 339.5h2M294.5 337v2M297.5 337v2" stroke="#9dff62"/>
<path d="M314 321.5h5M316.5 319v5M304 311.5h5M306.5 309v5M307 316.5h5M309.5 314v5M309 318.5h5M311.5 316v5M313 317.5h5M315.5 315v5M297 305.5h5M299.5 303v5M311 313.5h5M313.5 311v5M309 311.5h5M311.5 309v5M314 308.5h5M316.5 306v5M304 324.5h5M306.5 322v5M302 302.5h5M304.5 300v5M306 320.5h5M308.5 318v5M314 341.5h5M316.5 339v5M311 312.5h5M313.5 310v5M310 301.5h5M312.5 299v5M318 308.5h5M320.5 306v5M319 312.5h5M321.5 310v5M306 302.5h5M308.5 300v5M311 308.5h5M313.5 306v5M297 302.5h5M299.5 300v5M308 317.5h5M310.5 315v5M307 307.5h5M309.5 305v5M320 326.5h5M322.5 324v5M310 325.5h5M312.5 323v5M301 321.5h5M303.5 319v5M306 323.5h5M308.5 321v5M315 314.5h5M317.5 312v5M295 308.5h5M297.5 306v5M305 315.5h5M307.5 313v5M310 302.5h5M312.5 300v5M308 310.5h5M310.5 308v5M305 320.5h5M307.5 318v5M305 299.5h5M307.5 297v5M309 311.5h5M311.5 309v5M309 304.5h5M311.5 302v5M308 301.5h5M310.5 299v5M301 314.5h5M303.5 312v5M316 304.5h5M318.5 302v5M308 313.5h5M310.5 311v5M315 325.5h5M317.5 323v5M309 313.5h5M311.5 311v5M314 306.5h5M316.5 304v5M297 322.5h5M299.5 320v5M300 306.5h5M302.5 304v5M305 319.5h5M307.5 317v5M316 317.5h5M318.5 315v5M313 319.5h5M315.5 317v5M324 309.5h5M326.5 307v5M297 304.5h5M299.5 302v5M305 314.5h5M307.5 312v5M315 305.5h5M317.5 303v5M311 326.5h5M313.5 324v5M306 322.5h5M308.5 320v5M311 325.5h5M313.5 323v5M312 308.5h5M314.5 306v5M305 312.5h5M307.5 310v5M311 302.5h5M313.5 300v5M306 314.5h5M308.5 312v5M308 323.5h5M310.5 321v5M311 315.5h5M313.5 313v5M307 314.5h5M309.5 312v5M303 322.5h5M305.5 320v5M310 318.5h5M312.5 316v5M299 308.5h5M301.5 306v5M301 312.5h5M303.5 310v5M306 321.5h5M308.5 319v5M303 321.5h5M305.5 319v5M305 319.5h5M307.5 317v5M296 319.5h5M298.5 317v5M308 318.5h5M310.5 316v5M313 313.5h5M315.5 311v5M301 326.5h5M303.5 324v5M308 320.5h5M310.5 318v5M304 311.5h5M306.5 309v5M314 313.5h5M316.5 311v5M317 322.5h5M319.5 320v5M323 312.5h5M325.5 310v5M311 322.5h5M313.5 320v5M309 309.5h5M311.5 307v5M299 309.5h5M301.5 307v5M305 312.5h5M307.5 310v5M298 333.5h5M300.5 331v5M313 325.5h5M315.5 323v5M313 311.5h5M315.5 309v5M311 319.5h5M313.5 317v5M307 325.5h5M309.5 323v5M304 323.5h5M306.5 321v5M305 315.5h5M307.5 313v5" stroke="#62ff9d"/>
<path d="M293 306.5h2M293 309.5h2M292.5 307v2M295.5 307v2M314 310.5h2M314 313.5h2M313.5 311v2M316.5 311v2M317 316.5h2M317 319.5h2M316.5 317v2M319.5 317v2M305 303.5h2M305 306.5h2M304.5 304v2M307.5 304v2M303 303.5h2M303 306.5h2M302.5 304v2M305.5 304v2M304 308.5h2M304 311.5h2M303.5 309v2M306.5 309v2M309 312.5h2M309 315.5h2M308.5 313v2M311.5 313v2M292 310.5h2M292 313.5h2M291.5 311v2M294.5 311v2M301 308.5h2M301 311.5h2M300.5 309v2M303.5 309v2M301 311.5h2M301 314.5h2M300.5 312v2M303.5 312v2M289 320.5h2M289 323.5h2M288.5 321v2M291.5 321v2M287 312.5h2M287 315.5h2M286.5 313v2M289.5 313v2M292 310.5h2M292 313.5h2M291.5 311v2M294.5 311v2M309 310.5h2M309 313.5h2M308.5 311v2M311.5 311v2M300 309.5h2M300 312.5h2M299.5 310v2M302.5 310v2M309 310.5h2M309 313.5h2M308.5 311v2M311.5 311v2M299 301.5h2M299 304.5h2M298.5 302v2M301.5 302v2M299 332.5h2M299 335.5h2M298.5 333v2M301.5 333v2M308 319.5h2M308 322.5h2M307.5 320v2M310.5 320v2M291 313.5h2M291 316.5h2M290.5 314v2M293.5 314v2M295 309.5h2M295 312.5h2M294.5 310v2M297.5 310v2M289 304.5h2M289 307.5h2M288.5 305v2M291.5 305v2M301 320.5h2M301 323.5h2M300.5 321v2M303.5 321v2M295 307.5h2M295 310.5h2M294.5 308v2M297.5 308v2M312 327.5h2M312 330.5h2M311.5 328v2M314.5 328v2M299 310.5h2M299 313.5h2M298.5 311v2M301.5 311v2M316 315.5h2M316 318.5h2M315.5 316v2M318.5 316v2M311 328.5h2M311 331.5h2M310.5 329v2M313.5 329v2M311 320.5h2M311 323.5h2M310.5 321v2M313.5 321v2M299 319.5h2M299 322.5h2M298.5 320v2M301.5 320v2M306 320.5h2M306 323.5h2M305.5 321v2M308.5 321v2M303 324.5h2M303 327.5h2M302.5 325v2M305.5 325v2M296 316.5h2M296 319.5h2M295.5 317v2M298.5 317v2M299 317.5h2M299 320.5h2M298.5 318v2M301.5 318v2M293 329.5h2M293 332.5h2M292.5 330v2M295.5 330v2M299 312.5h2M299 315.5h2M298.5 313v2M301.5 313v2M299 306.5h2M299 309.5h2M298.5 307v2M301.5 307v2M303 319.5h2M303 322.5h2M302.5 320v2M305.5 320v2M315 319.5h2M315 322.5h2M314.5 320v2M317.5 320v2M291 316.5h2M291 319.5h2M290.5 317v2M293.5 317v2M295 305.5h2M295 308.5h2M294.5 306v2M297.5 306v2M303 313.5h2M303 316.5h2M302.5 314v2M305.5 314v2M304 317.5h2M304 320.5h2M303.5 318v2M306.5 318v2M302 311.5h2M302 314.5h2M301.5 312v2M304.5 312v2M304 319.5h2M304 322.5h2M303.5 320v2M306.5 320v2M310 310.5h2M310 313.5h2M309.5 311v2M312.5 311v2M295 312.5h2M295 315.5h2M294.5 313v2M297.5 313v2M304 311.5h2M304 314.5h2M303.5 312v2M306.5 312v2M316 312.5h2M316 315.5h2M315.5 313v2M318.5 313v2M299 314.5h2M299 317.5h2M298.5 315v2M301.5 315v2M303 316.5h2M303 319.5h2M302.5 317v2M305.5 317v2M299 323.5h2M299 326.5h2M298.5 324v2M301.5 324v2M298 313.5h2M298 316.5h2M297.5 314v2M300.5 314v2M295 313.5h2M295 316.5h2M294.5 314v2M297.5 314v2M302 307.5h2M302 310.5h2M301.5 308v2M304.5 308v2M300 315.5h2M300 318.5h2M299.5 316v2M302.5 316v2M293 315.5h2M293 318.5h2M292.5 316v2M295.5 316v2M302 303.5h2M302 306.5h2M301.5 304v2M304.5 304v2M306 314.5h2M306 317.5h2M305.5 315v2M308.5 315v2M303 297.5h2M303 300.5h2M302.5 298v2M305.5 298v2M314 298.5h2M314 301.5h2M313.5 299v2M316.5 299v2M292 325.5h2M292 328.5h2M291.5 326v2M294.5 326v2M300 313.5h2M300 316.5h2M299.5 314v2M302.5 314v2M300 317.5h2M300 320.5h2M299.5 318v2M302.5 318v2M294 310.5h2M294 313.5h2M293.5 311v2M296.5 311v2M306 308.5h2M306 311.5h2M305.5 309v2M308.5 309v2M305 320.5h2M305 323.5h2M304.5 321v2M307.5 321v2M302 310.5h2M302 313.5h2M301.5 311v2M304.5 311v2M300 297.5h2M300 300.5h2M299.5 298v2M302.5 298v2M300 317.5h2M300 320.5h2M299.5 318v2M302.5 318v2M311 319.5h2M311 322.5h2M310.5 320v2M313.5 320v2M298 305.5h2M298 308.5h2M297.5 306v2M300.5 306v2M300 317.5h2M300 320.5h2M299.5 318v2M302.5 318v2M294 313.5h2M294 316.5h2M293.5 314v2M296.5 314v2M300 314.5h2M300 317.5h2M299.5 315v2M302.5 315v2M291 313.5h2M291 316.5h2M290.5 314v2M293.5 314v2M304 316.5h2M304 319.5h2M303.5 317v2M306.5 317v2M301 302.5h2M301 305.5h2M300.5 303v2M303.5 303v2M303 315.5h2M303 318.5h2M302.5 316v2M305.5 316v2M299 300.5h2M299 303.5h2M298.5 301v2M301.5 301v2M304 307.5h2M304 310.5h2M303.5 308v2M306.5 308v2M294 329.5h2M294 332.5h2M293.5 330v2M296.5 330v2M291 316.5h2M291 319.5h2M290.5 317v2M293.5 317v2M301 303.5h2M301 306.5h2M300.5 304v2M303.5 304v2M305 315.5h2M305 318.5h2M304.5 316v2M307.5 316v2M306 309.5h2M306 312.5h2M305.5 310v2M308.5 310v2M296 305.5h2M296 308.5h2M295.5 306v2M298.5 306v2M294 314.5h2M294 317.5h2M293.5 315v2M296.5 315v2M294 306.5h2M294 309.5h2M293.5 307v2M296.5 307v2M307 304.5h2M307 307.5h2M306.5 305v2M309.5 305v2M291 323.5h2M291 326.5h2M290.5 324v2M293.5 324v2M298 315.5h2M298 318.5h2M297.5 316v2M300.5 316v2M294 304.5h2M294 307.5h2M293.5 305v2M296.5 305v2M298 314.5h2M298 317.5h2M297.5 315v2M300.5 315v2M313 304.5h2M313 307.5h2M312.5 305v2M315.5 305v2M294 316.5h2M294 319.5h2M293.5 317v2M296.5 317v2M314 307.5h2M314 310.5h2M313.5 308v2M316.5 308v2M304 314.5h2M304 317.5h2M303.5 315v2M306.5 315v2M294 312.5h2M294 315.5h2M293.5 313v2M296.5 313v2M305 319.5h2M305 322.5h2M304.5 320v2M307.5 320v2M306 319.5h2M306 322.5h2M305.5 320v2M308.5 320v2M298 321.5h2M298 324.5h2M297.5 322v2M300.5 322v2M295 311.5h2M295 314.5h2M294.5 312v2M297.5 312v2M305 314.5h2M305 317.5h2M304.5 315v2M307.5 315v2M302 300.5h2M302 303.5h2M301.5 301v2M304.5 301v2" stroke="#8eff71"/>
<path d="M305 323.5h5M307.5 321v5M303 323.5h5M305.5 321v5M305 302.5h5M307.5 300v5M306 303.5h5M308.5 301v5M297 320.5h5M299.5 318v5M301 293.5h5M303.5 291v5M308 309.5h5M310.5 307v5M308 309.5h5M310.5 307v5M307 316.5h5M309.5 314v5M307 322.5h5M309.5 320v5M301 320.5h5M303.5 318v5M310 321.5h5M312.5 319v5M305 307.5h5M307.5 305v5M301 312.5h5M303.5 310v5M304 313.5h5M306.5 311v5M310 317.5h5M312.5 315v5M302 325.5h5M304.5 323v5M301 315.5h5M303.5 313v5M303 320.5h5M305.5 318v5M299 313.5h5M301.5 311v5M309 321.5h5M311.5 319v5M305 314.5h5M307.5 312v5M304 319.5h5M306.5 317v5M315 321.5h5M317.5 319v5M302 313.5h5M304.5 311v5M290 303.5h5M292.5 301v5M303 322.5h5M305.5 320v5M296 319.5h5M298.5 317v5M305 310.5h5M307.5 308v5M299 297.5h5M301.5 295v5M300 324.5h5M302.5 322v5M299 307.5h5M301.5 305v5M299 310.5h5M301.5 308v5M296 319.5h5M298.5 317v5M305 311.5h5M307.5 309v5M299 312.5h5M301.5 310v5M303 304.5h5M305.5 302v5M301 316.5h5M303.5 314v5M299 311.5h5M301.5 309v5M296 302.5h5M298.5 300v5M303 315.5h5M305.5 313v5M319 318.5h5M321.5 316v5M305 321.5h5M307.5 319v5M309 323.5h5M311.5 321v5M305 320.5h5M307.5 318v5M308 312.5h5M310.5 310v5M308 312.5h5M310.5 310v5M304 304.5h5M306.5 302v5M300 324.5h5M302.5 322v5M309 319.5h5M311.5 317v5M296 316.5h5M298.5 314v5M296 324.5h5M298.5 322v5M308 319.5h5M310.5 317v5M309 303.5h5M311.5 301v5M311 307.5h5M313.5 305v5M301 312.5h5M303.5 310v5M309 314.5h5M311.5 312v5M318 329.5h5M320.5 327v5M298 322.5h5M300.5 320v5M299 325.5h5M301.5 323v5M306 320.5h5M308.5 318v5M309 324.5h5M311.5 322v5M307 309.5h5M309.5 307v5M306 329.5h5M308.5 327v5M312 302.5h5M314.5 300v5M293 310.5h5M295.5 308v5M295 306.5h5M297.5 304v5M316 304.5h5M318.5 302v5M289 315.5h5M291.5 313v5M299 321.5h5M301.5 319v5M309 315.5h5M311.5 313v5M306 305.5h5M308.5 303v5M304 311.5h5M306.5 309v5M307 330.5h5M309.5 328v5M305 304.5h5M307.5 302v5M306 309.5h5M308.5 307v5M306 311.5h5M308.5 309v5M310 316.5h5M312.5 314v5M306 323.5h5M308.5 321v5M308 321.5h5M310.5 319v5M307 310.5h5M309.5 308v5M312 314.5h5M314.5 312v5M300 306.5h5M302.5 304v5M303 300.5h5M305.5 298v5M295 324.5h5M297.5 322v5M302 311.5h5M304.5 309v5M300 309.5h5M302.5 307v5M301 311.5h5M303.5 309v5M310 315.5h5M312.5 313v5M300 315.5h5M302.5 313v5M301 288.5h5M303.5 286v5M315 318.5h5M317.5 316v5M313 317.5h5M315.5 315v5M307 325.5h5M309.5 323v5M304 309.5h5M306.5 307v5M301 313.5h5M303.5 311v5M310 319.5h5M312.5 317v5M312 313.5h5M314.5 311v5M310 317.5h5M312.5 315v5M301 320.5h5M303.5 318v5M304 314.5h5M306.5 312v5M302 309.5h5M304.5 307v5M309 315.5h5M311.5 313v5M312 320.5h5M314.5 318v5M309 306.5h5M311.5 304v5M308 319.5h5M310.5 317v5" stroke="#71ff8e"/>
<path d="M316 300.5h5M318.5 298v5M294 307.5h5M296.5 305v5M310 319.5h5M312.5 317v5M297 305.5h5M299.5 303v5M302 312.5h5M304.5 310v5M295 315.5h5M297.5 313v5M303 312.5h5M305.5 310v5M309 302.5h5M311.5 300v5M308 318.5h5M310.5 316v5M297 313.5h5M299.5 311v5M302 312.5h5M304.5 310v5M306 308.5h5M308.5 306v5M312 312.5h5M314.5 310v5M295 311.5h5M297.5 309v5M299 304.5h5M301.5 302v5M287 304.5h5M289.5 302v5M303 311.5h5M305.5 309v5M292 315.5h5M294.5 313v5M299 305.5h5M301.5 303v5M309 310.5h5M311.5 308v5M304 315.5h5M306.5 313v5M294 299.5h5M296.5 297v5M305 312.5h5M307.5 310v5M304 319.5h5M306.5 317v5M302 315.5h5M304.5 313v5M303 315.5h5M305.5 313v5M305 312.5h5M307.5 310v5M301 321.5h5M303.5 319v5M295 310.5h5M297.5 308v5M307 302.5h5M309.5 300v5M303 304.5h5M305.5 302v5M302 329.5h5M304.5 327v5M287 326.5h5M289.5 324v5M296 316.5h5M298.5 314v5M301 313.5h5M303.5 311v5M300 305.5h5M302.5 303v5M306 302.5h5M308.5 300v5M300 316.5h5M302.5 314v5M297 320.5h5M299.5 318v5M293 307.5h5M295.5 305v5M304 304.5h5M306.5 302v5M295 323.5h5M297.5 321v5M308 321.5h5M310.5 319v5M305 313.5h5M307.5 311v5M311 319.5h5M313.5 317v5M301 306.5h5M303.5 304v5M309 310.5h5M311.5 308v5M296 324.5h5M298.5 322v5M308 314.5h5M310.5 312v5M304 318.5h5M306.5 316v5M310 312.5h5M312.5 310v5M311 325.5h5M313.5 323v5M299 310.5h5M301.5 308v5M311 321.5h5M313.5 319v5M299 318.5h5M301.5 316v5M305 310.5h5M307.5 308v5M300 318.5h5M302.5 316v5M298 316.5h5M300.5 314v5M306 314.5h5M308.5 312v5M298 316.5h5M300.5 314v5" stroke="#78ff87"/>
<path d="M294 312.5h2M294 315.5h2M293.5 313v2M296.5 313v2M306 313.5h2M306 316.5h2M305.5 314v2M308.5 314v2M303 316.5h2M303 319.5h2M302.5 317v2M305.5 317v2M299 306.5h2M299 309.5h2M298.5 307v2M301.5 307v2M299 323.5h2M299 326.5h2M298.5 324v2M301.5 324v2M302 306.5h2M302 309.5h2M301.5 307v2M304.5 307v2M319 305.5h2M319 308.5h2M318.5 306v2M321.5 306v2M306 312.5h2M306 315.5h2M305.5 313v2M308.5 313v2M296 328.5h2M296 331.5h2M295.5 329v2M298.5 329v2M309 312.5h2M309 315.5h2M308.5 313v2M311.5 313v2M303 302.5h2M303 305.5h2M302.5 303v2M305.5 303v2M305 303.5h2M305 306.5h2M304.5 304v2M307.5 304v2M310 299.5h2M310 302.5h2M309.5 300v2M312.5 300v2M293 313.5h2M293 316.5h2M292.5 314v2M295.5 314v2M306 298.5h2M306 301.5h2M305.5 299v2M308.5 299v2M292 316.5h2M292 319.5h2M291.5 317v2M294.5 317v2M305 314.5h2M305 317.5h2M304.5 315v2M307.5 315v2M301 309.5h2M301 312.5h2M300.5 310v2M303.5 310v2M296 308.5h2M296 311.5h2M295.5 309v2M298.5 309v2M300 315.5h2M300 318.5h2M299.5 316v2M302.5 316v2M295 332.5h2M295 335.5h2M294.5 333v2M297.5 333v2M299 310.5h2M299 313.5h2M298.5 311v2M301.5 311v2M305 318.5h2M305 321.5h2M304.5 319v2M307.5 319v2M303 313.5h2M303 316.5h2M302.5 314v2M305.5 314v2M297 315.5h2M297 318.5h2M296.5 316v2M299.5 316v2M304 325.5h2M304 328.5h2M303.5 326v2M306.5 326v2M306 323.5h2M306 326.5h2M305.5 324v2M308.5 324v2M308 302.5h2M308 305.5h2M307.5 303v2M310.5 303v2M301 292.5h2M301 295.5h2M300.5 293v2M303.5 293v2M291 308.5h2M291 311.5h2M290.5 309v2M293.5 309v2M303 300.5h2M303 303.5h2M302.5 301v2M305.5 301v2M302 328.5h2M302 331.5h2M301.5 329v2M304.5 329v2M309 309.5h2M309 312.5h2M308.5 310v2M311.5 310v2M305 317.5h2M305 320.5h2M304.5 318v2M307.5 318v2M308 310.5h2M308 313.5h2M307.5 311v2M310.5 311v2M296 308.5h2M296 311.5h2M295.5 309v2M298.5 309v2M296 294.5h2M296 297.5h2M295.5 295v2M298.5 295v2M303 312.5h2M303 315.5h2M302.5 313v2M305.5 313v2M311 316.5h2M311 319.5h2M310.5 317v2M313.5 317v2M301 312.5h2M301 315.5h2M300.5 313v2M303.5 313v2M289 308.5h2M289 311.5h2M288.5 309v2M291.5 309v2M304 315.5h2M304 318.5h2M303.5 316v2M306.5 316v2M298 318.5h2M298 321.5h2M297.5 319v2M300.5 319v2M306 317.5h2M306 320.5h2M305.5 318v2M308.5 318v2M305 308.5h2M305 311.5h2M304.5 309v2M307.5 309v2M287 318.5h2M287 321.5h2M286.5 319v2M289.5 319v2M298 303.5h2M298 306.5h2M297.5 304v2M300.5 304v2M294 303.5h2M294 306.5h2M293.5 304v2M296.5 304v2" stroke="#87ff78"/>
</g>
<g fill="none" stroke="#d6d6d6" stroke-width="1"><polygon points="255.4,147.6 280.5,135.6 280.3,141.8 302.7,142.3 302.5,154.9 280.1,154.4 279.9,160.6"/><polygon points="251.9,313.8 277.0,301.8 276.8,308.0 299.2,308.5 299.0,321.1 276.6,320.6 276.4,326.8"/><polygon points="247.4,479.6 272.5,467.6 272.3,473.8 294.7,474.3 294.5,486.9 272.1,486.4 271.9,492.6"/></g>
<circle cx="298.4" cy="314.4" r="250.8" fill="none" stroke="#000" stroke-width="1.2"/>
<!-- compass labels -->
<g class="mono" font-weight="bold" font-size="12.6" fill="#000">
<text x="281.5" y="56.6" textLength="35" lengthAdjust="spacingAndGlyphs">North</text>
<text x="16" y="318" textLength="28" lengthAdjust="spacingAndGlyphs">West</text>
</g>
<g class="sans" font-weight="bold" font-size="11.9" fill="#000" stroke="#000" stroke-width="0.3">
<text x="281.9" y="577.5" textLength="34" lengthAdjust="spacingAndGlyphs">South</text>
<text x="552.6" y="317.6" textLength="26.3" lengthAdjust="spacingAndGlyphs">East</text>
</g>
<!-- header -->
<g class="mono" font-weight="bold" font-size="13.5" fill="#000" stroke="#000" stroke-width="0.15">
<text x="399.5" y="19.3" xml:space="preserve" style="white-space:pre" textLength="392" lengthAdjust="spacingAndGlyphs">STATION NAME    YYYY DATE  DDD HHMMSS AXN PPS IGP</text>
<text x="399.5" y="36.2" xml:space="preserve" style="white-space:pre" textLength="392" lengthAdjust="spacingAndGlyphs">Pt Arguello     2011 Sep24 267 195300 417 100 -8D</text>
</g>
<!-- stats -->
<g class="mono" font-size="12" fill="#000" stroke="#000" stroke-width="0.15"><text x="594.3" y="70.6" textLength="98" lengthAdjust="spacingAndGlyphs">Num of Sources</text><text x="763" y="70.6" textLength="28" lengthAdjust="spacingAndGlyphs">1140</text><text x="594.3" y="84.6" textLength="91" lengthAdjust="spacingAndGlyphs">Min Freq, kHz</text><text x="763" y="84.6" textLength="28" lengthAdjust="spacingAndGlyphs">7100</text><text x="594.3" y="98.6" textLength="91" lengthAdjust="spacingAndGlyphs">Max Freq, kHz</text><text x="763" y="98.6" textLength="28" lengthAdjust="spacingAndGlyphs">7450</text><text x="594.3" y="112.6" textLength="91" lengthAdjust="spacingAndGlyphs">Min Range, km</text><text x="770" y="112.6" textLength="21" lengthAdjust="spacingAndGlyphs">290</text><text x="594.3" y="126.6" textLength="91" lengthAdjust="spacingAndGlyphs">Max Range, km</text><text x="770" y="126.6" textLength="21" lengthAdjust="spacingAndGlyphs">315</text><text x="594.3" y="140.6" textLength="77" lengthAdjust="spacingAndGlyphs">Max Amp, dB</text><text x="777" y="140.6" textLength="14" lengthAdjust="spacingAndGlyphs">57</text><text x="594.3" y="154.6" textLength="105" lengthAdjust="spacingAndGlyphs">Max SNR Amp, dB</text><text x="777" y="154.6" textLength="14" lengthAdjust="spacingAndGlyphs">51</text><text x="594.3" y="168.6" textLength="105" lengthAdjust="spacingAndGlyphs">Min SNR Amp, dB</text><text x="777" y="168.6" textLength="14" lengthAdjust="spacingAndGlyphs">12</text><text x="594.3" y="182.6" textLength="105" lengthAdjust="spacingAndGlyphs">Avg SNR Amp, dB</text><text x="777" y="182.6" textLength="14" lengthAdjust="spacingAndGlyphs">27</text><text x="594.3" y="196.6" textLength="112" lengthAdjust="spacingAndGlyphs">Max RMS Err, deg</text><text x="763" y="196.6" textLength="28" lengthAdjust="spacingAndGlyphs">12.0</text><text x="594.3" y="210.6" textLength="112" lengthAdjust="spacingAndGlyphs">Min RMS Err, deg</text><text x="770" y="210.6" textLength="21" lengthAdjust="spacingAndGlyphs">0.0</text><text x="594.3" y="224.6" textLength="112" lengthAdjust="spacingAndGlyphs">Avg RMS Err, deg</text><text x="770" y="224.6" textLength="21" lengthAdjust="spacingAndGlyphs">4.7</text><text x="594.3" y="238.6" textLength="105" lengthAdjust="spacingAndGlyphs">Doppler Res, Hz</text><text x="749" y="238.6" textLength="42" lengthAdjust="spacingAndGlyphs">0.0488</text><text x="594.3" y="252.6" textLength="56" lengthAdjust="spacingAndGlyphs">CIT, sec</text><text x="756" y="252.6" textLength="35" lengthAdjust="spacingAndGlyphs">20.48</text><text x="594.3" y="266.6" textLength="77" lengthAdjust="spacingAndGlyphs">Num of CITs</text><text x="784" y="266.6" textLength="7" lengthAdjust="spacingAndGlyphs">6</text><text x="594.3" y="280.6" textLength="84" lengthAdjust="spacingAndGlyphs">Polarization</text><text x="749" y="280.6" textLength="42" lengthAdjust="spacingAndGlyphs">O-mode</text><text x="594.3" y="294.6" textLength="161" lengthAdjust="spacingAndGlyphs">Center of Sources, deg:</text><text x="664.3" y="308.6" textLength="42" lengthAdjust="spacingAndGlyphs">Zenith</text><text x="770" y="308.6" textLength="21" lengthAdjust="spacingAndGlyphs">1.3</text><text x="664.3" y="322.6" textLength="49" lengthAdjust="spacingAndGlyphs">Azimuth</text><text x="770" y="322.6" textLength="21" lengthAdjust="spacingAndGlyphs">275</text></g>
<path d="M726 319.7C725.9 317.2 723.6 317.1 722.3 319.6" fill="none" stroke="#000" stroke-width="1.2"/><path d="M720.2 318.9L723.7 319.3L721.9 321.4Z" fill="#000"/>
<!-- bottom texts -->
<g class="mono" font-size="12.2" fill="#000" stroke="#000" stroke-width="0.1"><text x="12.5" y="572.0" font-style="italic" textLength="7.0" lengthAdjust="spacingAndGlyphs">V</text><text x="19.8" y="575.5" font-size="10.6" textLength="6.0" lengthAdjust="spacingAndGlyphs">h</text><text x="33.5" y="572.0" textLength="7.0" lengthAdjust="spacingAndGlyphs">=</text><text x="47.5" y="572.0" font-style="italic" textLength="21.0" lengthAdjust="spacingAndGlyphs">150</text><text x="75.5" y="572.0" textLength="7.0" lengthAdjust="spacingAndGlyphs">±</text><text x="89.5" y="572.0" font-style="italic" textLength="14.0" lengthAdjust="spacingAndGlyphs">44</text><text x="110.5" y="572.0" textLength="21.0" lengthAdjust="spacingAndGlyphs">m/s</text><text x="12.5" y="592.7" font-style="italic" textLength="133.0" lengthAdjust="spacingAndGlyphs">Compass coordinates</text><text x="480.5" y="572.0" font-style="italic" textLength="7.0" lengthAdjust="spacingAndGlyphs">V</text><text x="487.8" y="575.5" font-size="10.6" textLength="6.0" lengthAdjust="spacingAndGlyphs">z</text><text x="501.5" y="572.0" textLength="7.0" lengthAdjust="spacingAndGlyphs">=</text><text x="515.5" y="572.0" font-style="italic" textLength="7.0" lengthAdjust="spacingAndGlyphs">4</text><text x="529.5" y="572.0" textLength="7.0" lengthAdjust="spacingAndGlyphs">±</text><text x="543.5" y="572.0" font-style="italic" textLength="7.0" lengthAdjust="spacingAndGlyphs">1</text><text x="557.5" y="572.0" textLength="21.0" lengthAdjust="spacingAndGlyphs">m/s</text><text x="419.5" y="592.7" font-style="italic" textLength="49.0" lengthAdjust="spacingAndGlyphs">Zenith:</text><text x="475.5" y="592.7" font-style="italic" textLength="21.0" lengthAdjust="spacingAndGlyphs">max</text><text x="503.5" y="592.7" font-style="italic" textLength="14.0" lengthAdjust="spacingAndGlyphs">40</text><circle cx="520.3" cy="585.6" r="1.7" fill="none" stroke="#000" stroke-width="0.9"/><text x="535.5" y="592.7" font-style="italic" textLength="28.0" lengthAdjust="spacingAndGlyphs">step</text><text x="570.5" y="592.7" font-style="italic" textLength="7.0" lengthAdjust="spacingAndGlyphs">5</text><circle cx="580.3" cy="585.6" r="1.7" fill="none" stroke="#000" stroke-width="0.9"/></g>
<!-- colour bar -->
<rect x="593" y="341" width="15" height="242" fill="url(#jet)"/>
<path d="M608.5 341V583" stroke="#000" stroke-width="1" shape-rendering="crispEdges"/>
<path d="M608 578.5h7M608 574.5h4M608 570.5h4M608 566.5h4M608 562.5h4M608 558.5h7M608 555.5h4M608 551.5h4M608 547.5h4M608 543.5h4M608 539.5h7M608 535.5h4M608 531.5h4M608 527.5h4M608 523.5h4M608 520.5h7M608 516.5h4M608 512.5h4M608 508.5h4M608 504.5h4M608 500.5h7M608 496.5h4M608 492.5h4M608 489.5h4M608 485.5h4M608 481.5h7M608 477.5h4M608 473.5h4M608 469.5h4M608 465.5h4M608 461.5h7M608 457.5h4M608 454.5h4M608 450.5h4M608 446.5h4M608 442.5h7M608 438.5h4M608 434.5h4M608 430.5h4M608 426.5h4M608 422.5h7M608 419.5h4M608 415.5h4M608 411.5h4M608 407.5h4M608 403.5h7M608 399.5h4M608 395.5h4M608 391.5h4M608 387.5h4M608 384.5h7M608 380.5h4M608 376.5h4M608 372.5h4M608 368.5h4M608 364.5h7M608 360.5h4M608 356.5h4M608 352.5h4M608 349.5h4M608 345.5h7M608 341.5h7M608 582.5h7" stroke="#000" stroke-width="1" shape-rendering="crispEdges"/>
<g class="sans" font-weight="bold" font-size="10.5" fill="#000" stroke="#000" stroke-width="0.25"><text x="617.6" y="345.0" textLength="18.4" lengthAdjust="spacingAndGlyphs">3.1</text><text x="617.6" y="368.0" textLength="18.4" lengthAdjust="spacingAndGlyphs">2.5</text><text x="617.6" y="388.0" textLength="18.4" lengthAdjust="spacingAndGlyphs">2.0</text><text x="617.6" y="407.0" textLength="18.4" lengthAdjust="spacingAndGlyphs">1.5</text><text x="617.6" y="426.0" textLength="18.4" lengthAdjust="spacingAndGlyphs">1.0</text><text x="617.6" y="446.0" textLength="18.4" lengthAdjust="spacingAndGlyphs">0.5</text><text x="617.6" y="465.0" textLength="6.4" lengthAdjust="spacingAndGlyphs">0</text><text x="617.6" y="485.0" textLength="23.0" lengthAdjust="spacingAndGlyphs">-0.5</text><text x="617.6" y="504.0" textLength="23.0" lengthAdjust="spacingAndGlyphs">-1.0</text><text x="617.6" y="524.0" textLength="23.0" lengthAdjust="spacingAndGlyphs">-1.5</text><text x="617.6" y="543.0" textLength="23.0" lengthAdjust="spacingAndGlyphs">-2.0</text><text x="617.6" y="562.0" textLength="23.0" lengthAdjust="spacingAndGlyphs">-2.5</text><text x="617.6" y="586.0" textLength="23.0" lengthAdjust="spacingAndGlyphs">-3.1</text></g>
<text class="sans" font-weight="bold" font-size="10.2" fill="#000" stroke="#000" stroke-width="0.35" transform="translate(657.2 491.5) rotate(-90)" textLength="52.4" lengthAdjust="spacingAndGlyphs">Doppler, Hz</text>
<path d="M669 402.5h7M672.5 399v7" stroke="#0000e6" stroke-width="1" shape-rendering="crispEdges"/>
<text class="sans" font-weight="bold" font-size="10" fill="#0000e0" x="682.7" y="405.9" textLength="44.5" lengthAdjust="spacingAndGlyphs">Positive</text>
<circle cx="672.8" cy="523.2" r="2.3" fill="none" stroke="#e60000" stroke-width="1"/>
<text class="sans" font-weight="bold" font-size="10" fill="#e00000" x="682.7" y="526" textLength="50.6" lengthAdjust="spacingAndGlyphs">Negative</text>
<g class="sans" font-size="10" fill="#000">
<text x="654.4" y="592.4" textLength="88.6" lengthAdjust="spacingAndGlyphs">ShowSkymap v 1.0</text>
<text x="753.6" y="592.4" textLength="38.8" lengthAdjust="spacingAndGlyphs">SD v 5.0</text>
</g>
</svg>
</body></html>
